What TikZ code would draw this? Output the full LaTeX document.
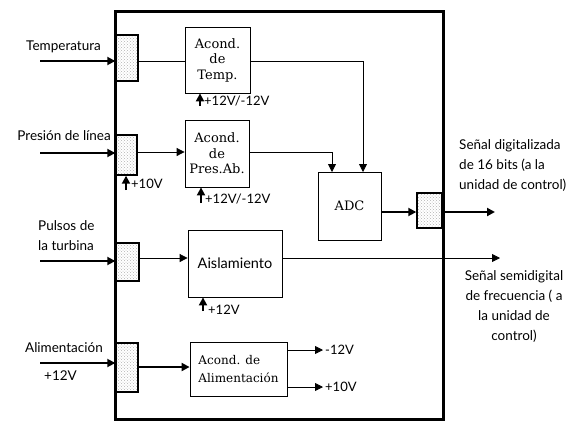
\documentclass[tikz,border=0pt]{standalone}
\usepackage{fontspec}
\setmainfont{DejaVu Serif}
\newfontfamily\hand{Lato}
\usetikzlibrary{arrows.meta,patterns}
\begin{document}
\begin{tikzpicture}[x=1pt,y=-1pt,
  box/.style={draw,line width=0.8pt,inner sep=0pt,align=center,font=\fontsize{13}{15.5}\selectfont},
  conn/.style={draw,line width=1.4pt,inner sep=0pt,pattern=crosshatch dots,pattern color=gray!60},
  lbl/.style={font=\hand\fontsize{13.5}{20}\selectfont,inner sep=0pt},
  vlbl/.style={font=\hand\fontsize{13}{15}\selectfont,inner sep=0pt,anchor=west},
  tip/.style={-{Triangle[length=8pt,width=8pt]}},
  wire/.style={line width=0.8pt},
  inw/.style={line width=1.8pt},
  outw/.style={line width=2.6pt}]
\useasboundingbox (0,0) rectangle (577,421);
% frame
\draw[line width=3pt] (115,11) rectangle (443,419);
% connectors
\node[conn,minimum width=22,minimum height=46] (c1) at (127,58) {};
\node[conn,minimum width=21,minimum height=40] (c2) at (126.5,155) {};
\node[conn,minimum width=23,minimum height=38] (c3) at (127.5,262) {};
\node[conn,minimum width=22,minimum height=49] (c4) at (127,367.5) {};
\node[conn,minimum width=25,minimum height=35] (co) at (429.5,210.5) {};
% boxes
\node[box,minimum width=65,minimum height=66] (temp) at (217.5,60) {Acond.\\de\\Temp.};
\node[box,minimum width=64,minimum height=67] (pres) at (217,153.5) {Acond.\\de\\Pres.Ab.};
\node[box,minimum width=63,minimum height=68] (adc) at (349.5,206) {ADC};
\node[box,minimum width=94,minimum height=67,font=\hand\fontsize{14.5}{16}\selectfont] (ais) at (235,263.5) {Aislamiento};
\node[box,minimum width=97,minimum height=54,align=left,font=\fontsize{12}{18}\selectfont] (alim) at (238.5,369) {Acond. de\\Alimentación};
% input labels
\node[lbl,anchor=south east] (lt) at (101,53) {Temperatura};
\node[lbl,anchor=south east] (lp) at (111,141) {Presión de línea};
\node[lbl,anchor=south west,align=left] (lpu) at (38,251) {Pulsos de\\la turbina};
\node[lbl,anchor=south east] (la) at (103,353) {Alimentación};
\node[lbl,anchor=west] (la2) at (44,376) {+12V};
% input arrows
\coordinate (i1) at (40,61);
\coordinate (i2) at (40,153);
\coordinate (i3) at (40,261);
\coordinate (i4) at (40,363);
\draw[inw,tip] (i1) -- (i1 -| c1.west);
\draw[inw,tip] (i2) -- (i2 -| c2.west);
\draw[inw,tip] (i3) -- (i3 -| c3.west);
\draw[inw,tip] (i4) -- (i4 -| c4.west);
% internal wires
\coordinate (t1) at (0,61);
\coordinate (p1) at (0,152);
\coordinate (a1) at (0,258);
\coordinate (m1) at (0,367);
\draw[wire] (c1.east |- t1) -- (temp.west |- t1);
\draw[wire,tip] (c2.east |- p1) -- (pres.west |- p1);
\draw[wire,tip] (c3.east |- a1) -- (ais.west |- a1);
\draw[inw,tip] (c4.east |- m1) -- (alim.west |- m1);
\coordinate (adcA) at (332,172);
\coordinate (adcB) at (363,172);
\draw[wire,tip] (temp.east |- t1) -| (adcB);
\draw[wire,tip] (pres.east |- p1) -| (adcA);
\coordinate (q1) at (0,212);
\draw[inw,tip] (adc.east |- q1) -- (co.west |- q1);
% outputs
\coordinate (o1) at (495,212);
\draw[outw,tip] (co.east |- q1) -- (o1);
\coordinate (o2) at (500,258);
\draw[wire,tip] (ais.east |- a1) -- (o2);
\node[lbl,anchor=north west,align=left] (s1) at (459,139) {Señal digitalizada\\de 16 bits (a la\\unidad de control)};
\node[lbl,anchor=north,align=center] (s2) at (514,270) {Señal semidigital\\de frecuencia ( a\\la unidad de\\control)};
% supply labels
\coordinate (v1) at (200,106);
\draw[inw,tip] (v1) -- (v1 |- temp.south);
\node[vlbl] (v1l) at (204,101) {+12V/-12V};
\coordinate (v2) at (201,203);
\draw[inw,tip] (v2) -- (v2 |- pres.south);
\node[vlbl] (v2l) at (205,199) {+12V/-12V};
\coordinate (v3) at (126,190);
\draw[inw,tip] (v3) -- (v3 |- c2.south);
\node[vlbl] (v3l) at (131,184) {+10V};
\coordinate (v4) at (203,311);
\draw[inw,tip] (v4) -- (v4 |- ais.south);
\node[vlbl] (v4l) at (208,310) {+12V};
% alim outputs
\coordinate (e1) at (0,350);
\coordinate (e2) at (0,387);
\coordinate (e1t) at (323,350);
\coordinate (e2t) at (323,387);
\draw[wire,tip] (alim.east |- e1) -- (e1t);
\draw[wire,tip] (alim.east |- e2) -- (e2t);
\node[vlbl] (e1l) at (325,350) {-12V};
\node[vlbl] (e2l) at (325,387) {+10V};
\end{tikzpicture}
\end{document}
